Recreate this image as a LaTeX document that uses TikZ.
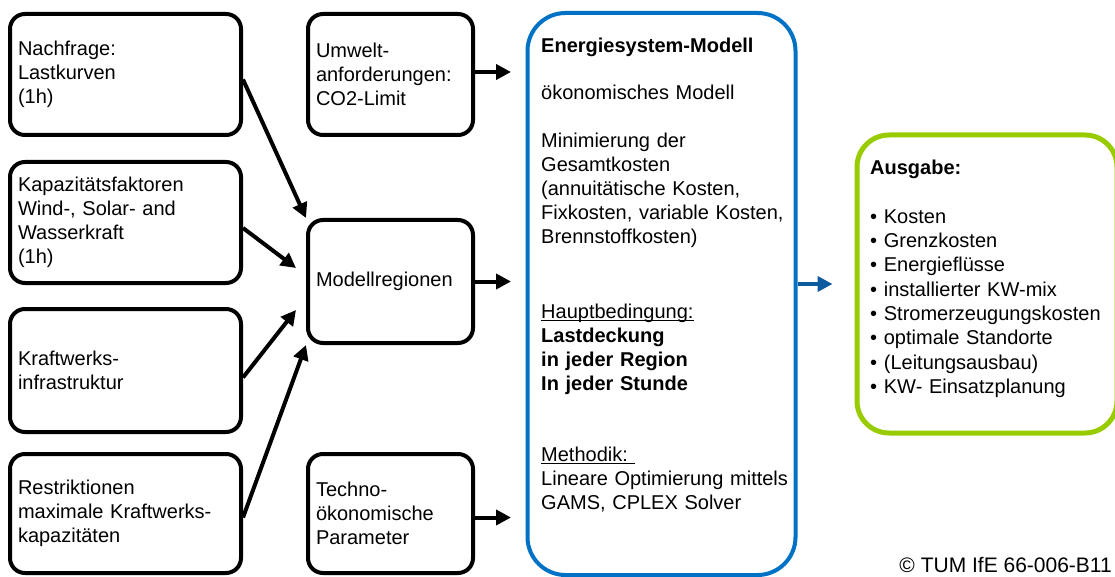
\documentclass[tikz,border=0pt]{standalone}
\usepackage{fontspec}
\setmainfont{Liberation Sans}
\usetikzlibrary{arrows.meta}

\definecolor{tumblue}{RGB}{0,114,198}
\definecolor{flowblue}{RGB}{14,90,158}
\definecolor{outgreen}{RGB}{153,204,0}

\begin{document}
\begin{tikzpicture}[x=1pt, y=-1pt,
    font=\fontsize{20}{24}\selectfont,
    inbox/.style={draw, line width=4pt, rounded corners=15pt,
      text width=#1, inner xsep=8pt, inner ysep=0pt, align=left},
    flow/.style={line width=4pt, -{Triangle[length=15pt, width=15pt]}}]
  \useasboundingbox (0,0) rectangle (1115,577);
  % \draw[step=10,gray,very thin] (0,0) grid (1115,577);

  \node[inbox=215pt, minimum height=121pt] (nachfrage) at (125.5,74.5)
    {Nachfrage:\\Lastkurven\\(1h)};
  \node[inbox=215pt, minimum height=121pt] (kapazitaet) at (125.5,222.5)
    {Kapazitätsfaktoren\\Wind-, Solar- and\\Wasserkraft\\(1h)};
  \node[inbox=215pt, minimum height=123pt] (kraftwerk) at (125.5,370.5)
    {Kraftwerks-\\infrastruktur};
  \node[inbox=215pt, minimum height=119pt] (restriktion) at (125.5,513.5)
    {Restriktionen\\maximale Kraftwerks-\\kapazitäten};

  \node[inbox=149pt, minimum height=121pt] (umwelt) at (390.5,74.5)
    {Umwelt-\\anforderungen:\\CO2-Limit};
  \node[inbox=149pt, minimum height=123pt] (regionen) at (390.5,281.5)
    {Modellregionen};
  \node[inbox=149pt, minimum height=119pt] (techno) at (390.5,513.5)
    {Techno-\\ökonomische\\Parameter};

  \node[draw=tumblue, line width=4pt, rounded corners=38pt, inner sep=0pt,
    minimum width=268pt, minimum height=562pt] (modell) at (661.5,294) {};
  \node[anchor=base west, text width=255pt, inner sep=0pt, align=left]
    (modelltext) at (541,53)
    {\textbf{Energiesystem-Modell}\\[23pt]
     ökonomisches Modell\\[24pt]
     Minimierung der\\Gesamtkosten\\(annuitätische Kosten,\\
     Fixkosten, variable Kosten,\\Brennstoffkosten)\\[51pt]
     \underbar{Hauptbedingung:}\\
     \textbf{Lastdeckung}\\\textbf{in jeder Region}\\\textbf{In jeder Stunde}\\[47pt]
     \underbar{Methodik:\ }\\
     Lineare Optimierung mittels\\GAMS, CPLEX Solver};

  \node[draw=outgreen, line width=5pt, rounded corners=32pt, inner sep=0pt,
    minimum width=260pt, minimum height=298pt] (ausgabe) at (987,284) {};
  \node[anchor=base west, text width=240pt, inner sep=0pt, align=left,
    font=\fontsize{20}{24.3}\selectfont] (ausgabetext) at (870,175)
    {\textbf{Ausgabe:}\\[24pt]
     \textbullet\ Kosten\\
     \textbullet\ Grenzkosten\\
     \textbullet\ Energieflüsse\\
     \textbullet\ installierter KW-mix\\
     \textbullet\ Stromerzeugungskosten\\
     \textbullet\ optimale Standorte\\
     \textbullet\ (Leitungsausbau)\\
     \textbullet\ KW- Einsatzplanung};

  \node[anchor=base east, inner sep=0pt, font=\fontsize{21}{24}\selectfont]
    (copyright) at (1112,572) {© TUM IfE 66-006-B11};

  \draw[flow] ([yshift=-5pt]nachfrage.east) -- (regionen.north west);
  \draw[flow] ([yshift=-5.5pt]kapazitaet.east) -- ([xshift=-10pt,yshift=13.5pt]regionen.west);
  \draw[flow] ([yshift=-7pt]kraftwerk.east) -- ([xshift=-10pt,yshift=-28.5pt]regionen.west);
  \draw[flow] ([yshift=-4pt]restriktion.east) -- (regionen.south west);

  \draw[flow] ([yshift=2.5pt]umwelt.east) -- ([xshift=36pt,yshift=2.5pt]umwelt.east);
  \draw[flow] (regionen.east) -- ([xshift=36pt]regionen.east);
  \draw[flow] ([yshift=-4pt]techno.east) -- ([xshift=36pt,yshift=-4pt]techno.east);

  \draw[flow, color=flowblue, line width=4.5pt] (modell.east |- ausgabe.west) -- ([xshift=-22pt]ausgabe.west);
\end{tikzpicture}
\end{document}
